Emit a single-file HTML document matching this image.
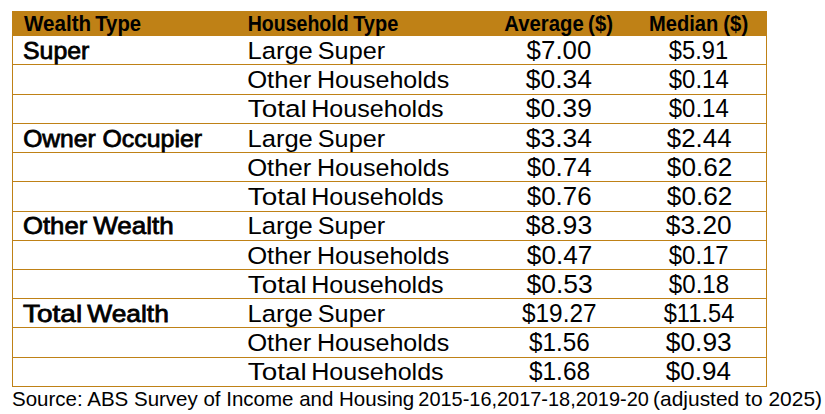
<!DOCTYPE html>
<html><head><meta charset="utf-8"><style>
html,body{margin:0;padding:0;background:#fff;}
body{width:825px;height:414px;overflow:hidden;}
svg{display:block;}
text{font-family:"Liberation Sans",sans-serif;fill:#000;white-space:pre;}
</style></head><body>
<svg width="825" height="414" viewBox="0 0 825 414">
<rect x="12" y="11" width="755" height="25" fill="#bf8116"/>
<rect x="12" y="11" width="1" height="376" fill="#bf8116"/>
<rect x="766" y="11" width="1" height="376" fill="#bf8116"/>
<rect x="12" y="64" width="755" height="1" fill="#bf8116"/>
<rect x="12" y="94" width="755" height="1" fill="#bf8116"/>
<rect x="12" y="123" width="755" height="1" fill="#bf8116"/>
<rect x="12" y="152" width="755" height="1" fill="#bf8116"/>
<rect x="12" y="181" width="755" height="1" fill="#bf8116"/>
<rect x="12" y="211" width="755" height="1" fill="#bf8116"/>
<rect x="12" y="240" width="755" height="1" fill="#bf8116"/>
<rect x="12" y="269" width="755" height="1" fill="#bf8116"/>
<rect x="12" y="298" width="755" height="1" fill="#bf8116"/>
<rect x="12" y="327" width="755" height="1" fill="#bf8116"/>
<rect x="12" y="357" width="755" height="1" fill="#bf8116"/>
<rect x="12" y="386" width="755" height="1" fill="#bf8116"/>
<text x="24.00" y="30.90" font-size="22.5" font-weight="bold" textLength="67.13" lengthAdjust="spacingAndGlyphs">Wealth</text>
<text x="95.20" y="30.90" font-size="22.5" font-weight="bold" textLength="45.90" lengthAdjust="spacingAndGlyphs">Type</text>
<text x="247.67" y="30.90" font-size="22.5" font-weight="bold" textLength="100.99" lengthAdjust="spacingAndGlyphs">Household</text>
<text x="353.15" y="30.90" font-size="22.5" font-weight="bold" textLength="45.11" lengthAdjust="spacingAndGlyphs">Type</text>
<text x="504.31" y="30.90" font-size="22.5" font-weight="bold" textLength="79.48" lengthAdjust="spacingAndGlyphs">Average</text>
<text x="588.10" y="30.90" font-size="22.5" font-weight="bold" textLength="24.89" lengthAdjust="spacingAndGlyphs">($)</text>
<text x="648.99" y="30.90" font-size="22.5" font-weight="bold" textLength="69.38" lengthAdjust="spacingAndGlyphs">Median</text>
<text x="723.23" y="30.90" font-size="22.5" font-weight="bold" textLength="24.98" lengthAdjust="spacingAndGlyphs">($)</text>
<text x="23.01" y="58.75" font-size="24.5" stroke="#000" stroke-width="0.8" textLength="66.32" lengthAdjust="spacingAndGlyphs">Super</text>
<text x="23.16" y="146.75" font-size="24.5" stroke="#000" stroke-width="0.8" textLength="72.53" lengthAdjust="spacingAndGlyphs">Owner</text>
<text x="102.48" y="146.75" font-size="24.5" stroke="#000" stroke-width="0.8" textLength="99.60" lengthAdjust="spacingAndGlyphs">Occupier</text>
<text x="23.00" y="233.75" font-size="24.5" stroke="#000" stroke-width="0.8" textLength="64.26" lengthAdjust="spacingAndGlyphs">Other</text>
<text x="93.16" y="233.75" font-size="24.5" stroke="#000" stroke-width="0.8" textLength="80.49" lengthAdjust="spacingAndGlyphs">Wealth</text>
<text x="23.02" y="321.75" font-size="24.5" stroke="#000" stroke-width="0.8" textLength="59.10" lengthAdjust="spacingAndGlyphs">Total</text>
<text x="87.33" y="321.75" font-size="24.5" stroke="#000" stroke-width="0.8" textLength="81.51" lengthAdjust="spacingAndGlyphs">Wealth</text>
<text x="247.43" y="59.05" font-size="24.5" textLength="65.44" lengthAdjust="spacingAndGlyphs">Large</text>
<text x="317.77" y="59.05" font-size="24.5" textLength="67.37" lengthAdjust="spacingAndGlyphs">Super</text>
<text x="247.18" y="88.05" font-size="24.5" textLength="64.08" lengthAdjust="spacingAndGlyphs">Other</text>
<text x="317.00" y="88.05" font-size="24.5" textLength="132.30" lengthAdjust="spacingAndGlyphs">Households</text>
<text x="247.78" y="117.05" font-size="24.5" textLength="58.90" lengthAdjust="spacingAndGlyphs">Total</text>
<text x="311.16" y="117.05" font-size="24.5" textLength="132.50" lengthAdjust="spacingAndGlyphs">Households</text>
<text x="247.43" y="147.05" font-size="24.5" textLength="65.44" lengthAdjust="spacingAndGlyphs">Large</text>
<text x="317.77" y="147.05" font-size="24.5" textLength="67.37" lengthAdjust="spacingAndGlyphs">Super</text>
<text x="247.18" y="176.05" font-size="24.5" textLength="64.08" lengthAdjust="spacingAndGlyphs">Other</text>
<text x="317.00" y="176.05" font-size="24.5" textLength="132.30" lengthAdjust="spacingAndGlyphs">Households</text>
<text x="247.78" y="205.05" font-size="24.5" textLength="58.90" lengthAdjust="spacingAndGlyphs">Total</text>
<text x="311.16" y="205.05" font-size="24.5" textLength="132.50" lengthAdjust="spacingAndGlyphs">Households</text>
<text x="247.43" y="234.05" font-size="24.5" textLength="65.44" lengthAdjust="spacingAndGlyphs">Large</text>
<text x="317.77" y="234.05" font-size="24.5" textLength="67.37" lengthAdjust="spacingAndGlyphs">Super</text>
<text x="247.18" y="264.05" font-size="24.5" textLength="64.08" lengthAdjust="spacingAndGlyphs">Other</text>
<text x="317.00" y="264.05" font-size="24.5" textLength="132.30" lengthAdjust="spacingAndGlyphs">Households</text>
<text x="247.78" y="293.05" font-size="24.5" textLength="58.90" lengthAdjust="spacingAndGlyphs">Total</text>
<text x="311.16" y="293.05" font-size="24.5" textLength="132.50" lengthAdjust="spacingAndGlyphs">Households</text>
<text x="247.43" y="322.05" font-size="24.5" textLength="65.44" lengthAdjust="spacingAndGlyphs">Large</text>
<text x="317.77" y="322.05" font-size="24.5" textLength="67.37" lengthAdjust="spacingAndGlyphs">Super</text>
<text x="247.18" y="351.05" font-size="24.5" textLength="64.08" lengthAdjust="spacingAndGlyphs">Other</text>
<text x="317.00" y="351.05" font-size="24.5" textLength="132.30" lengthAdjust="spacingAndGlyphs">Households</text>
<text x="247.78" y="380.05" font-size="24.5" textLength="58.90" lengthAdjust="spacingAndGlyphs">Total</text>
<text x="311.16" y="380.05" font-size="24.5" textLength="132.50" lengthAdjust="spacingAndGlyphs">Households</text>
<text x="526.63" y="59.05" font-size="25" textLength="64.69" lengthAdjust="spacingAndGlyphs">$7.00</text>
<text x="525.83" y="88.05" font-size="25" textLength="66.21" lengthAdjust="spacingAndGlyphs">$0.34</text>
<text x="525.83" y="117.05" font-size="25" textLength="66.01" lengthAdjust="spacingAndGlyphs">$0.39</text>
<text x="525.83" y="147.05" font-size="25" textLength="66.21" lengthAdjust="spacingAndGlyphs">$3.34</text>
<text x="526.87" y="176.05" font-size="25" textLength="64.69" lengthAdjust="spacingAndGlyphs">$0.74</text>
<text x="526.87" y="205.05" font-size="25" textLength="64.69" lengthAdjust="spacingAndGlyphs">$0.76</text>
<text x="525.65" y="234.05" font-size="25" textLength="66.53" lengthAdjust="spacingAndGlyphs">$8.93</text>
<text x="526.87" y="264.05" font-size="25" textLength="65.40" lengthAdjust="spacingAndGlyphs">$0.47</text>
<text x="526.52" y="293.05" font-size="25" textLength="66.22" lengthAdjust="spacingAndGlyphs">$0.53</text>
<text x="521.99" y="322.05" font-size="25" textLength="74.58" lengthAdjust="spacingAndGlyphs">$19.27</text>
<text x="529.01" y="351.05" font-size="25" textLength="60.62" lengthAdjust="spacingAndGlyphs">$1.56</text>
<text x="529.01" y="380.05" font-size="25" textLength="61.01" lengthAdjust="spacingAndGlyphs">$1.68</text>
<text x="668.85" y="59.05" font-size="25" textLength="59.29" lengthAdjust="spacingAndGlyphs">$5.91</text>
<text x="668.79" y="88.05" font-size="25" textLength="59.91" lengthAdjust="spacingAndGlyphs">$0.14</text>
<text x="668.79" y="117.05" font-size="25" textLength="59.91" lengthAdjust="spacingAndGlyphs">$0.14</text>
<text x="666.87" y="147.05" font-size="25" textLength="64.69" lengthAdjust="spacingAndGlyphs">$2.44</text>
<text x="666.87" y="176.05" font-size="25" textLength="65.40" lengthAdjust="spacingAndGlyphs">$0.62</text>
<text x="666.87" y="205.05" font-size="25" textLength="65.40" lengthAdjust="spacingAndGlyphs">$0.62</text>
<text x="665.83" y="234.05" font-size="25" textLength="65.81" lengthAdjust="spacingAndGlyphs">$3.20</text>
<text x="668.79" y="264.05" font-size="25" textLength="59.89" lengthAdjust="spacingAndGlyphs">$0.17</text>
<text x="668.85" y="293.05" font-size="25" textLength="60.30" lengthAdjust="spacingAndGlyphs">$0.18</text>
<text x="663.63" y="322.05" font-size="25" textLength="70.70" lengthAdjust="spacingAndGlyphs">$11.54</text>
<text x="665.83" y="351.05" font-size="25" textLength="65.81" lengthAdjust="spacingAndGlyphs">$0.93</text>
<text x="665.83" y="380.05" font-size="25" textLength="65.10" lengthAdjust="spacingAndGlyphs">$0.94</text>
<text x="12.04" y="405.90" font-size="21" textLength="402.25" lengthAdjust="spacingAndGlyphs">Source: ABS Survey of Income and Housing</text>
<text x="418.33" y="405.90" font-size="21" textLength="230.52" lengthAdjust="spacingAndGlyphs">2015-16,2017-18,2019-20</text>
<text x="653.02" y="405.90" font-size="21" textLength="169.02" lengthAdjust="spacingAndGlyphs">(adjusted to 2025)</text>
</svg>
</body></html>
